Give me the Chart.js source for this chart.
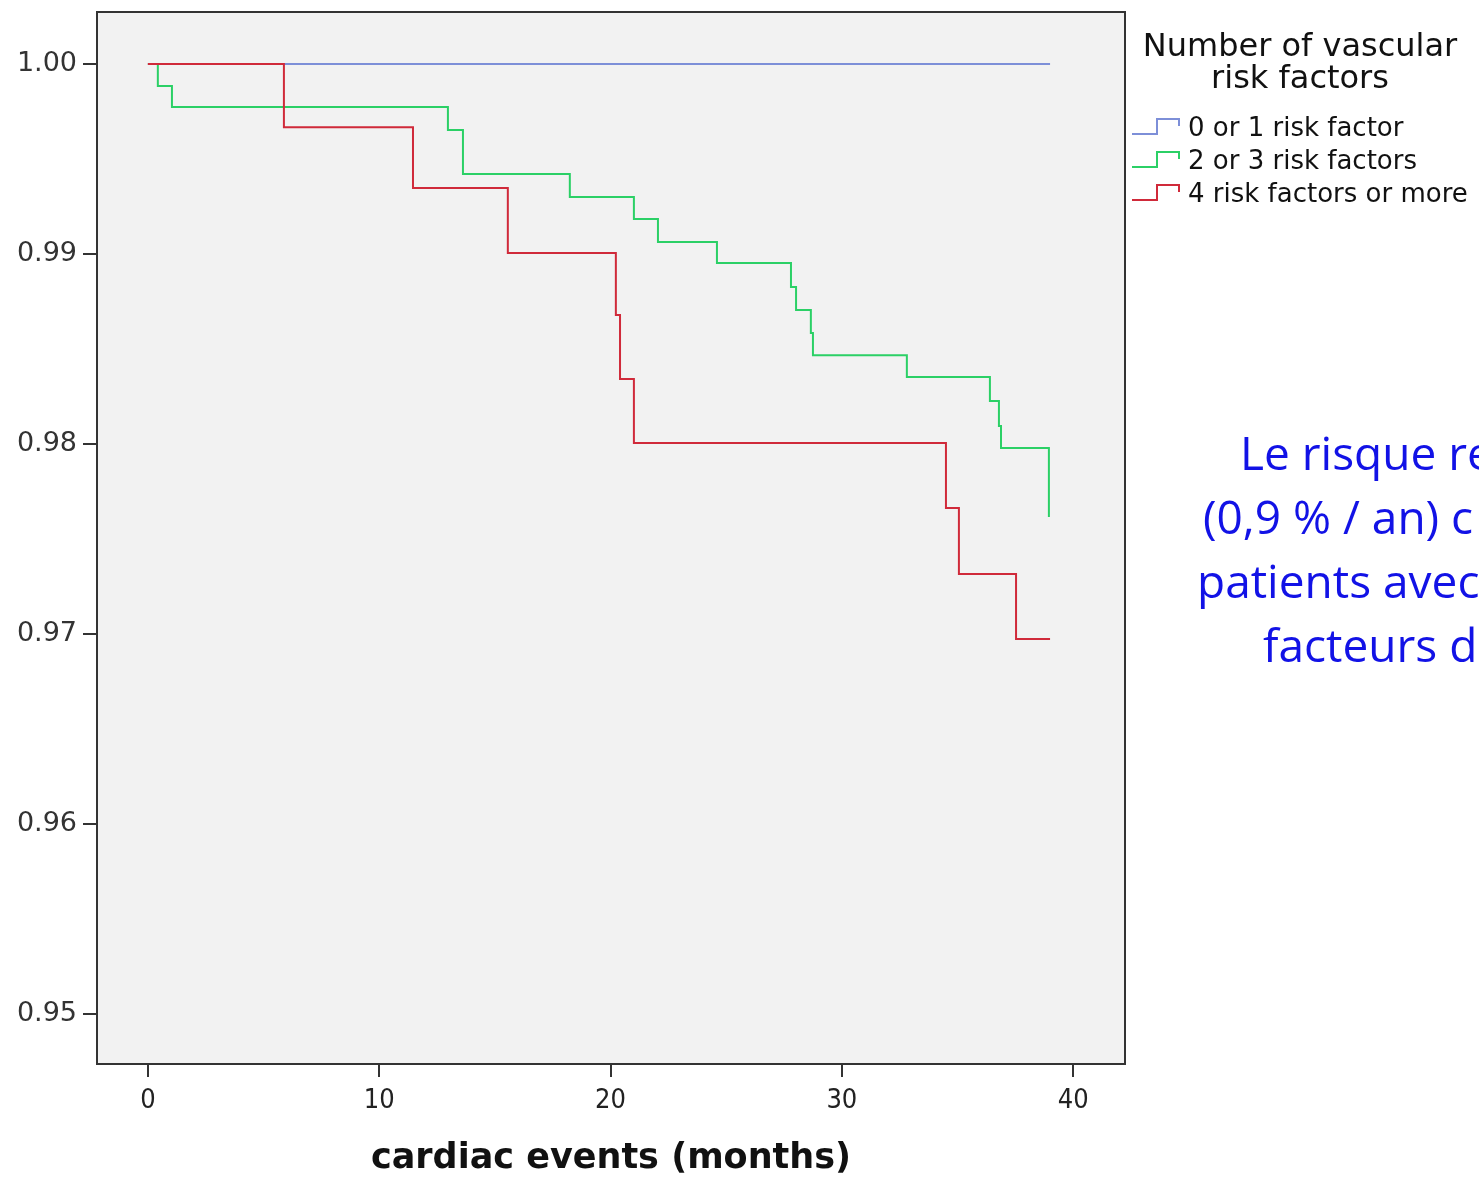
<!DOCTYPE html>
<html>
<head>
<meta charset="utf-8">
<script src="https://cdn.jsdelivr.net/npm/chart.js@4.4.1/dist/chart.umd.min.js"></script>
<style>
  html, body { margin:0; padding:0; background:#fff; overflow:hidden; }
  #wrap { position:relative; width:1479px; height:1181px; overflow:hidden; }
  #c { position:absolute; left:0; top:0; }
  .lt { position:absolute; font-family:"DejaVu Sans", sans-serif; color:#111; white-space:nowrap; }
  .ltitle { font-size:32px; text-align:center; width:360px; left:1120px; line-height:32px; }
  .litem { font-size:26px; left:1188px; line-height:30px; }
  .icon { position:absolute; left:1131px; }
  .blue { position:absolute; font-family:"Open Sans", sans-serif; font-size:46px; line-height:60px; color:#1212e6; white-space:nowrap; }
</style>
</head>
<body>
<div id="wrap">
  <canvas id="c" width="1479" height="1181"></canvas>
</div>
<script>
// ---- data ----
const xTicks = [0, 10, 20, 30, 40];
const yTicks = [0.95, 0.96, 0.97, 0.98, 0.99, 1.00];
const legendTitle = ["Number of vascular", "risk factors"];
const seriesNames = ["0 or 1 risk factor", "2 or 3 risk factors", "4 risk factors or more"];
const xTitle = "cardiac events (months)";
const sideText = ["Le risque re", "(0,9 % / an) c", "patients avec", "facteurs d"];

const t01 = [0, 39.0];
const s01 = [1.0, 1.0];

const t23 = [0, 0.43, 1.04, 12.97, 13.62, 18.24, 21.01, 22.05, 24.60, 27.80, 28.02, 28.66, 28.75, 32.81, 36.40, 36.79, 36.88, 38.95];
const s23 = [1.0, 0.99884, 0.99774, 0.99653, 0.99421, 0.99300, 0.99184, 0.99063, 0.98953, 0.98826, 0.98705, 0.98584, 0.98468, 0.98353, 0.98226, 0.98095, 0.97979, 0.97616];

const t4 = [0, 5.88, 11.46, 15.56, 20.23, 20.41, 21.01, 34.50, 35.06, 37.53, 39.0];
const s4 = [1.0, 0.99668, 0.99347, 0.99005, 0.98679, 0.98342, 0.98005, 0.97663, 0.97316, 0.96974, 0.96974];

const colors = ["#7d8fd8", "#2bd066", "#d02a3a"];

const toPts = (t, s) => t.map((x, i) => ({x: x, y: s[i]}));

// ---- html legend and side text ----
const wrap = document.getElementById('wrap');
legendTitle.forEach((txt, i) => {
  const d = document.createElement('div');
  d.className = 'lt ltitle';
  d.style.top = (29 + i * 32) + 'px';
  d.textContent = txt;
  wrap.appendChild(d);
});
seriesNames.forEach((txt, i) => {
  const y0 = 115 + i * 33;
  const svg = document.createElementNS('http://www.w3.org/2000/svg', 'svg');
  svg.setAttribute('width', '52'); svg.setAttribute('height', '22');
  svg.setAttribute('class', 'icon');
  svg.style.top = y0 + 'px';
  const pl = document.createElementNS('http://www.w3.org/2000/svg', 'polyline');
  pl.setAttribute('points', '1,19 26,19 26,4 48,4 48,11');
  pl.setAttribute('fill', 'none');
  pl.setAttribute('stroke', colors[i]);
  pl.setAttribute('stroke-width', '2');
  svg.appendChild(pl);
  wrap.appendChild(svg);
  const d = document.createElement('div');
  d.className = 'lt litem';
  d.style.top = (y0 - 3) + 'px';
  d.textContent = txt;
  wrap.appendChild(d);
});
const sideX = [1240, 1203, 1197, 1263];
sideText.forEach((txt, i) => {
  const d = document.createElement('div');
  d.className = 'blue';
  d.style.left = sideX[i] + 'px';
  d.style.top = (422 + i * 64) + 'px';
  d.textContent = txt;
  wrap.appendChild(d);
});

// ---- chart ----
const frame = {
  id: 'frame',
  beforeDatasetsDraw(chart) {
    const a = chart.chartArea, ctx = chart.ctx;
    ctx.save();
    ctx.fillStyle = '#f2f2f2';
    ctx.fillRect(a.left, a.top, a.right - a.left, a.bottom - a.top);
    ctx.restore();
  },
  afterDraw(chart) {
    const a = chart.chartArea, ctx = chart.ctx;
    ctx.save();
    ctx.strokeStyle = '#333';
    ctx.lineWidth = 2;
    ctx.strokeRect(a.left, a.top, a.right - a.left, a.bottom - a.top);
    ctx.restore();
  }
};

new Chart(document.getElementById('c'), {
  type: 'line',
  data: {
    datasets: [
      {label: seriesNames[2], data: toPts(t4, s4), borderColor: colors[2]},
      {label: seriesNames[1], data: toPts(t23, s23), borderColor: colors[1]},
      {label: seriesNames[0], data: toPts(t01, s01), borderColor: colors[0]}
    ].map(d => Object.assign(d, {stepped: 'before', borderWidth: 2, pointRadius: 0, fill: false, tension: 0}))
  },
  options: {
    responsive: false,
    animation: false,
    events: [],
    layout: {padding: {left: 0, right: 354, top: 12, bottom: 0}},
    plugins: {legend: {display: false}, tooltip: {enabled: false}},
    scales: {
      x: {
        type: 'linear',
        min: -2.2, max: 42.24,
        afterBuildTicks(s) { s.ticks = xTicks.map(v => ({value: v})); },
        afterFit(s) { s.height = 117; s.paddingLeft = 0; s.paddingRight = 0; },
        ticks: {
          font: {family: '"Liberation Sans Narrow", "DejaVu Sans Condensed", "DejaVu Sans", sans-serif', size: 27},
          color: '#222', padding: 8, maxRotation: 0,
          callback: v => String(v)
        },
        grid: {display: true, drawOnChartArea: false, drawTicks: true, tickLength: 13, color: '#333', lineWidth: 2},
        border: {display: true, color: '#333', width: 2},
        title: {
          display: true, text: xTitle, color: '#111',
          font: {family: '"DejaVu Sans", sans-serif', size: 35, weight: 'bold'},
          padding: {top: 0, bottom: 1}
        }
      },
      y: {
        type: 'linear',
        min: 0.94737, max: 1.00274,
        afterBuildTicks(s) { s.ticks = yTicks.map(v => ({value: v})); },
        afterFit(s) { s.width = 97; s.paddingTop = 0; s.paddingBottom = 0; },
        ticks: {
          font: {family: '"DejaVu Sans", sans-serif', size: 27},
          color: '#333', padding: 6,
          callback: v => Number(v).toFixed(2)
        },
        grid: {display: true, drawOnChartArea: false, drawTicks: true, tickLength: 14, color: '#333', lineWidth: 2},
        border: {display: true, color: '#333', width: 2}
      }
    }
  },
  plugins: [frame]
});
</script>
</body>
</html>
